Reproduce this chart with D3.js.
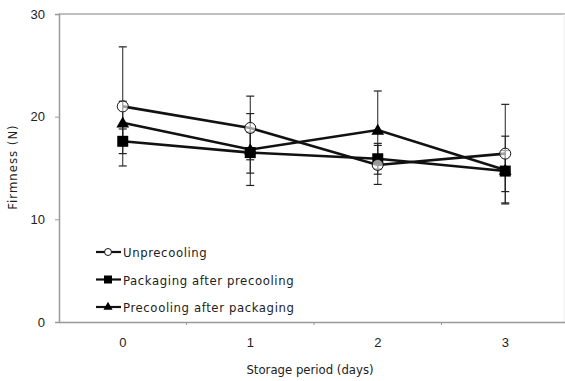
<!DOCTYPE html>
<html>
<head>
<meta charset="utf-8">
<script src="https://cdn.jsdelivr.net/npm/d3@7"></script>
<style>
  body { margin: 0; background: #fff; }
  svg { display: block; font-family: "Liberation Sans Narrow", "DejaVu Sans Condensed", Arial, sans-serif; }
</style>
</head>
<body>
<svg id="chart" width="565" height="381"></svg>
<script>
// Data
const days = ['0', '1', '2', '3'];
const seriesNames = ['Unprecooling', 'Packaging after precooling', 'Precooling after packaging'];
const unprecooling = [21.0, 18.9, 15.3, 16.4];
const unprecoolingErr = [5.8, 3.1, 1.9, 4.8];
const packagingAfter = [17.6, 16.5, 15.9, 14.7];
const packagingAfterErr = [1.2, 2.0, 1.5, 2.0];
const precoolingAfter = [19.4, 16.8, 18.7, 14.8];
const precoolingAfterErr = [2.1, 3.5, 3.8, 3.3];
const yTicks = [0, 10, 20, 30];

const series = [
  { name: seriesNames[0], values: unprecooling, err: unprecoolingErr, marker: 'circle' },
  { name: seriesNames[1], values: packagingAfter, err: packagingAfterErr, marker: 'square' },
  { name: seriesNames[2], values: precoolingAfter, err: precoolingAfterErr, marker: 'triangle' }
];

const svg = d3.select('#chart');
const margin = { left: 59, top: 14, right: 1, bottom: 59 };
const width = 565, height = 381;

const x = d3.scaleBand().domain(days).range([margin.left, 569]);
const y = d3.scaleLinear().domain([0, 30]).range([height - margin.bottom, margin.top]);

// Top border
svg.append('line')
  .attr('x1', margin.left).attr('x2', width)
  .attr('y1', y(30)).attr('y2', y(30))
  .attr('stroke', '#aaa').attr('stroke-width', 1.5);
svg.append('line')
  .attr('x1', 564).attr('x2', 564)
  .attr('y1', y(30)).attr('y2', y(0))
  .attr('stroke', '#eee').attr('stroke-width', 1);

// Y axis
const yAxis = svg.append('g')
  .attr('transform', `translate(${margin.left},0)`)
  .call(d3.axisLeft(y).tickValues(yTicks).tickSize(4).tickPadding(10));
yAxis.select('.domain').attr('stroke', '#999').attr('stroke-width', 1.5);
yAxis.selectAll('.tick line').attr('stroke', '#999');
yAxis.selectAll('text').attr('font-size', 13).attr('fill', '#222');

// X axis: ticks between categories
const xAxis = svg.append('g')
  .attr('transform', `translate(0,${y(0)})`)
  .call(d3.axisBottom(x).tickSize(0).tickPadding(16));
xAxis.select('.domain').attr('stroke', '#999').attr('stroke-width', 1.5);
xAxis.selectAll('text').attr('font-size', 13).attr('fill', '#222');
xAxis.selectAll('.sep')
  .data(days.slice(1))
  .enter().append('line')
  .attr('x1', d => x(d)).attr('x2', d => x(d))
  .attr('y1', 0).attr('y2', 3)
  .attr('stroke', '#999');

// Axis titles
svg.append('text')
  .attr('x', 310).attr('y', 374)
  .attr('text-anchor', 'middle')
  .attr('font-size', 13).attr('fill', '#222')
  .text('Storage period (days)');
svg.append('text')
  .attr('transform', 'translate(17,167) rotate(-90)')
  .attr('text-anchor', 'middle')
  .attr('font-size', 13).attr('fill', '#222')
  .attr('letter-spacing', 1)
  .text('Firmness (N)');

const cx = d => x(d) + x.bandwidth() / 2;

function drawMarker(g, type, px, py) {
  if (type === 'circle') {
    g.append('circle').attr('cx', px).attr('cy', py).attr('r', 5.5)
      .attr('fill', '#fff').attr('fill-opacity', 0.6).attr('stroke', '#111').attr('stroke-width', 1);
  } else if (type === 'square') {
    g.append('rect').attr('x', px - 5.5).attr('y', py - 5.5).attr('width', 11).attr('height', 11)
      .attr('fill', '#000');
  } else {
    g.append('path')
      .attr('d', d3.symbol().type(d3.symbolTriangle).size(70)())
      .attr('transform', `translate(${px},${py + 1})`)
      .attr('fill', '#000');
  }
}

// Error bars
const errG = svg.append('g');
series.forEach(s => {
  s.values.forEach((v, i) => {
    const px = cx(days[i]);
    const top = y(v + s.err[i]), bot = y(v - s.err[i]);
    errG.append('line').attr('x1', px).attr('x2', px).attr('y1', top).attr('y2', bot)
      .attr('stroke', '#222').attr('stroke-width', 1);
    [top, bot].forEach(yy => errG.append('line')
      .attr('x1', px - 4).attr('x2', px + 4).attr('y1', yy).attr('y2', yy)
      .attr('stroke', '#222').attr('stroke-width', 1.2));
  });
});

// Lines
const line = d3.line().x((d, i) => cx(days[i])).y(d => y(d));
series.forEach(s => {
  svg.append('path').datum(s.values)
    .attr('d', line)
    .attr('fill', 'none').attr('stroke', '#111').attr('stroke-width', 2.6);
});

// Markers
series.slice().reverse().forEach(s => {
  const g = svg.append('g');
  s.values.forEach((v, i) => drawMarker(g, s.marker, cx(days[i]), y(v)));
});

// Legend
const legend = svg.append('g');
series.forEach((s, i) => {
  const ly = 252 + i * 27.5;
  legend.append('line').attr('x1', 96).attr('x2', 121).attr('y1', ly).attr('y2', ly)
    .attr('stroke', '#111').attr('stroke-width', 2.2);
  const g = legend.append('g');
  if (s.marker === 'circle') {
    g.append('circle').attr('cx', 108).attr('cy', ly).attr('r', 3.5)
      .attr('fill', '#fff').attr('stroke', '#111').attr('stroke-width', 1);
  } else if (s.marker === 'square') {
    g.append('rect').attr('x', 104).attr('y', ly - 4).attr('width', 8).attr('height', 8).attr('fill', '#000');
  } else {
    g.append('path').attr('d', d3.symbol().type(d3.symbolTriangle).size(36)())
      .attr('transform', `translate(108,${ly})`).attr('fill', '#000');
  }
  legend.append('text').attr('x', 123).attr('y', ly + 5)
    .attr('font-size', 13).attr('fill', '#222')
    .attr('letter-spacing', 0.6)
    .text(s.name);
});
</script>
</body>
</html>
